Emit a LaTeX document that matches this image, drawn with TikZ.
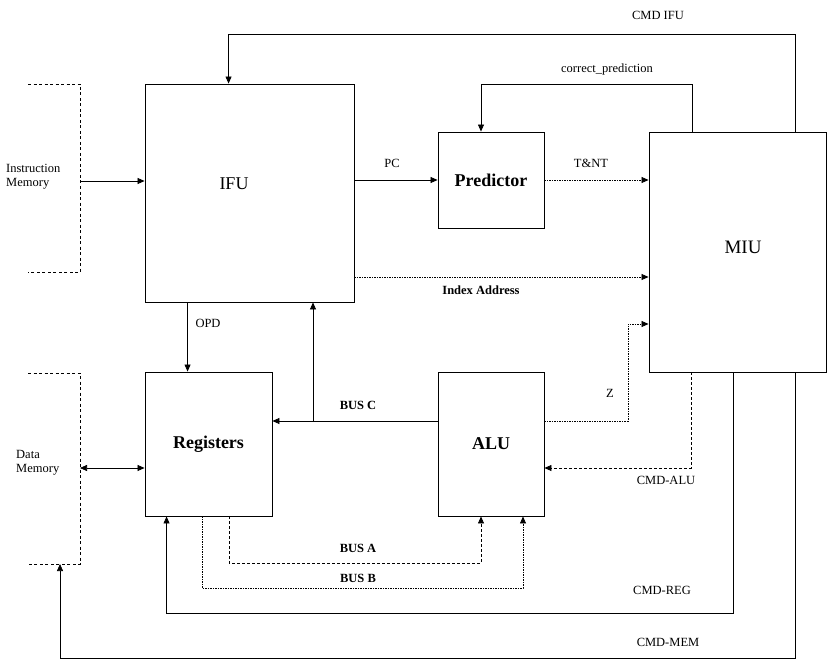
\documentclass[tikz,border=0pt]{standalone}
\usepackage{fontspec}
\setmainfont{Liberation Serif}
\usetikzlibrary{arrows.meta}
\tikzset{
  box/.style={draw, line width=0.9pt, inner sep=0pt, font=\fontsize{18}{20}\selectfont},
  bbox/.style={box, font=\fontsize{18}{20}\selectfont\bfseries},
  arr/.style={draw, line width=0.7pt, -{Triangle[length=7pt,width=6pt]}},
  darr/.style={draw, line width=0.7pt, {Triangle[length=7pt,width=6pt]}-{Triangle[length=7pt,width=6pt]}},
  mem/.style={draw, line width=0.8pt, dash pattern=on 3pt off 2.5pt},
  lbl/.style={inner sep=1pt, font=\fontsize{12.5}{14}\selectfont},
  blbl/.style={lbl, font=\fontsize{12.5}{14}\selectfont\bfseries},
  dots/.style={dash pattern=on 1.5pt off 1pt},
  dsh/.style={dash pattern=on 3pt off 2pt}
}
\begin{document}
\begin{tikzpicture}[x=1pt, y=-1pt]
\useasboundingbox (0,0) rectangle (829,663);
% memory brackets
\draw[mem] (28,84) -- (80,84) -- (80,272) -- (28,272);
\draw[mem] (28,373) -- (80,373) -- (80,564) -- (28,564);
\coordinate (imem) at (80,181);
\coordinate (dmem) at (80,468);
\coordinate (dmembot) at (60,564);
\node[lbl, anchor=west, align=left] (imemlbl) at (5,177) {Instruction\\Memory};
\node[lbl, anchor=west, align=left] (dmemlbl) at (15,463) {Data\\Memory};
% blocks
\node[box, minimum width=209pt, minimum height=218pt] (ifu) at (249.5,193) {};
\node[inner sep=0pt, font=\fontsize{18}{20}\selectfont] (ifulbl) at (234,184) {IFU};
\node[bbox, minimum width=106pt, minimum height=96pt] (pred) at (491,180) {Predictor};
\node[box, minimum width=177pt, minimum height=240pt, font=\fontsize{19}{21}\selectfont] (miu) at (737.5,252) {};
\node[inner sep=0pt, font=\fontsize{19}{21}\selectfont] (miulbl) at (743,247) {MIU};
\node[bbox, minimum width=127pt, minimum height=144pt] (reg) at (208.5,444) {Registers};
\node[bbox, minimum width=106pt, minimum height=144pt] (alu) at (491,444) {ALU};
% turning points
\coordinate (cmdifu) at (795,34);
\coordinate (cp) at (692,84);
\coordinate (bc) at (313,421);
\coordinate (zc) at (628,324);
\coordinate (ca) at (691,468);
\coordinate (cr) at (733,613);
\coordinate (cm) at (795,658);
\coordinate (ba) at (229,563);
\coordinate (bb) at (202,588);
% connectors
\draw[arr] (imem) -- (imem -| ifu.west);
\draw[arr] (miu.north -| cmdifu) -- (cmdifu) -| ([xshift=84pt]ifu.north west);
\draw[arr] (miu.north -| cp) -- (cp) -| ([xshift=-10pt]pred.north);
\draw[arr] (ifu.east |- pred.west) -- (pred.west);
\draw[arr, dots] (pred.east) -- (pred.east -| miu.west);
\draw[arr, dots] ([yshift=-84pt]ifu.east) -- ([yshift=-84pt]ifu.east -| miu.west);
\draw[arr] ([xshift=43pt]ifu.south west) -- ([xshift=43pt]reg.north west);
\draw[arr] ([yshift=23pt]alu.west) -- ([yshift=23pt]reg.east);
\draw[arr] (bc) -- (bc |- ifu.south);
\draw[arr, dots] ([yshift=23pt]alu.east) -| (zc) -- (zc -| miu.west);
\draw[arr, dsh] (miu.south -| ca) -- (ca) -- (ca -| alu.east);
\draw[darr] (dmem) -- (dmem -| reg.west);
\draw[arr] (miu.south -| cr) -- (cr) -| ([xshift=22pt]reg.south west);
\draw[arr] (miu.south -| cm) -- (cm) -| (dmembot);
\draw[arr, dsh] (reg.south -| ba) -- (ba) -| ([xshift=-10pt]alu.south);
\draw[arr, dots] (reg.south -| bb) -- (bb) -| ([xshift=32pt]alu.south);
% labels
\node[lbl] (lcmdifu) at (658,15) {CMD IFU};
\node[lbl] (lcp) at (607,69) {correct\_prediction};
\node[lbl] (lpc) at (392,163) {PC};
\node[lbl] (ltnt) at (591,163) {T\&NT};
\node[blbl] (lidx) at (481,290) {Index Address};
\node[lbl] (lopd) at (208,323) {OPD};
\node[blbl] (lbusc) at (358,405) {BUS C};
\node[lbl] (lz) at (610,393) {Z};
\node[lbl] (lcmdalu) at (666,480) {CMD-ALU};
\node[blbl] (lbusa) at (358,548) {BUS A};
\node[blbl] (lbusb) at (358,578) {BUS B};
\node[lbl] (lcmdreg) at (662,590) {CMD-REG};
\node[lbl] (lcmdmem) at (668,642) {CMD-MEM};
\end{tikzpicture}
\end{document}
